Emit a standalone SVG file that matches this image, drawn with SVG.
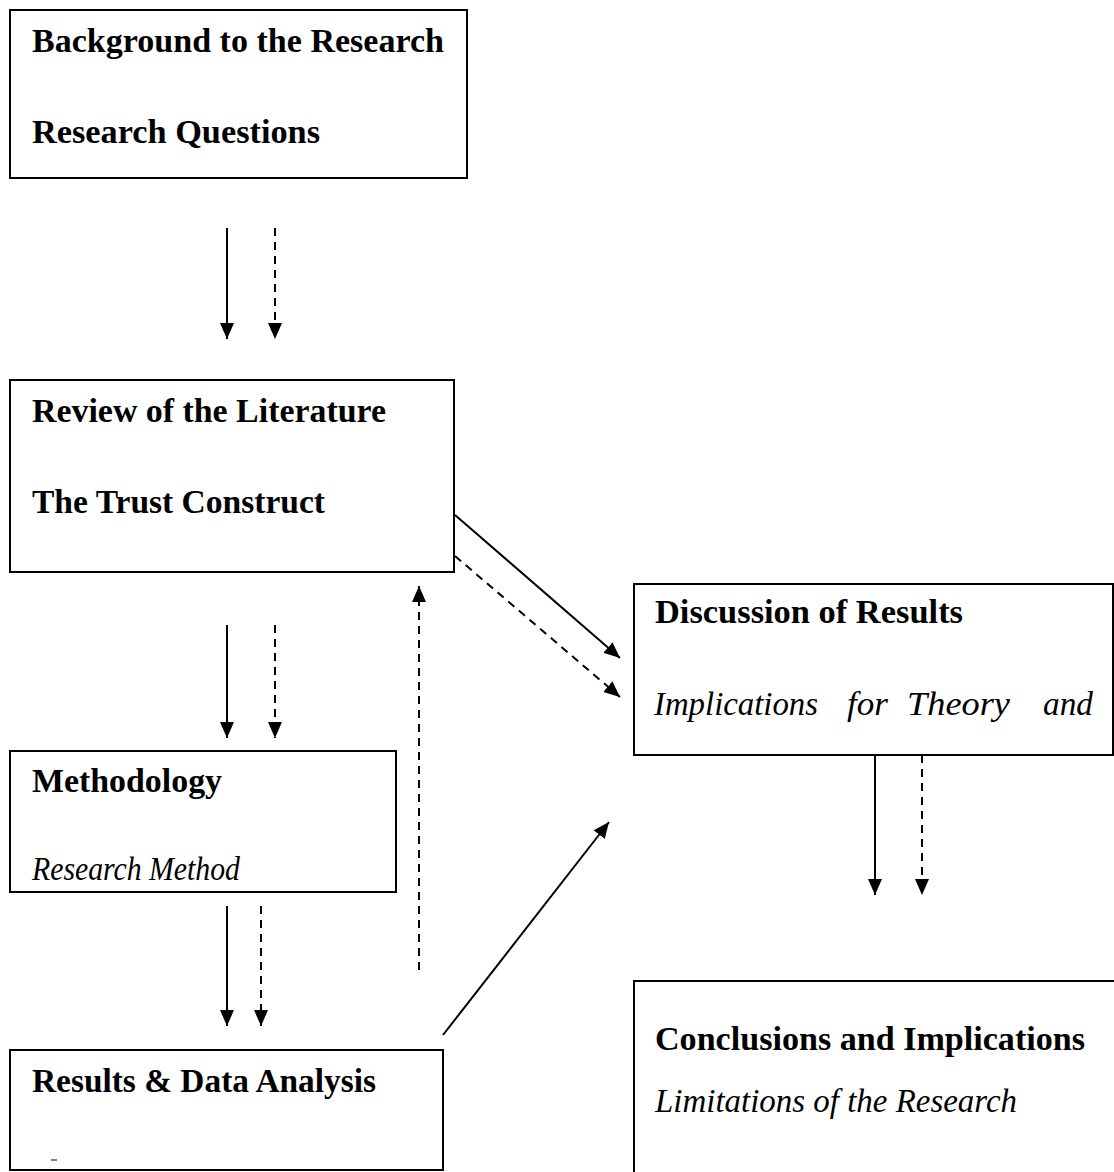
<svg xmlns="http://www.w3.org/2000/svg" width="1114" height="1172" viewBox="0 0 1114 1172">
<style>
.box{fill:#fff;stroke:#000;stroke-width:2}
.t{font-family:"Liberation Serif","DejaVu Serif",serif;font-size:33px;fill:#000}
.b{font-weight:bold}
.i{font-style:italic}
.c{stroke:#000;stroke-width:2;fill:none}
.d{stroke-dasharray:8 6}
</style>
<defs>
<marker id="ah" markerUnits="userSpaceOnUse" markerWidth="18" markerHeight="18" viewBox="0 0 18 18" refX="16" refY="9" orient="auto">
<path d="M0,2 L16,9 L0,16 Z" fill="#000"/>
</marker>
</defs>
<rect width="1114" height="1172" fill="#fff"/>
<g id="background">
<rect class="box" x="10" y="10" width="457" height="168"/>
<text class="t b" x="32" y="52" textLength="412" lengthAdjust="spacingAndGlyphs">Background to the Research</text>
<text class="t b" x="32" y="143" textLength="288" lengthAdjust="spacingAndGlyphs">Research Questions</text>
</g>
<g id="review">
<rect class="box" x="10" y="380" width="444" height="192"/>
<text class="t b" x="32" y="422" textLength="354" lengthAdjust="spacingAndGlyphs">Review of the Literature</text>
<text class="t b" x="32" y="513" textLength="293" lengthAdjust="spacingAndGlyphs">The Trust Construct</text>
</g>
<g id="methodology">
<rect class="box" x="10" y="751" width="386" height="141"/>
<text class="t b" x="32" y="792" textLength="190" lengthAdjust="spacingAndGlyphs">Methodology</text>
<text class="t i" x="32" y="880" textLength="208" lengthAdjust="spacingAndGlyphs">Research Method</text>
</g>
<g id="results">
<rect class="box" x="10" y="1050" width="433" height="120"/>
<text class="t b" x="32" y="1092" textLength="344" lengthAdjust="spacingAndGlyphs">Results &amp; Data Analysis</text>
<line x1="51" y1="1160" x2="57" y2="1160" stroke="#000" stroke-width="1"/>
</g>
<g id="discussion">
<rect class="box" x="634" y="584" width="479" height="171"/>
<text class="t b" x="655" y="623" textLength="308" lengthAdjust="spacingAndGlyphs">Discussion of Results</text>
<text class="t i" x="654" y="715" textLength="164" lengthAdjust="spacingAndGlyphs">Implications</text>
<text class="t i" x="847" y="715" textLength="41" lengthAdjust="spacingAndGlyphs">for</text>
<text class="t i" x="907" y="715" textLength="103" lengthAdjust="spacingAndGlyphs">Theory</text>
<text class="t i" x="1043" y="715" textLength="50" lengthAdjust="spacingAndGlyphs">and</text>
</g>
<g id="conclusions">
<rect class="box" x="634" y="981" width="490" height="200"/>
<text class="t b" x="655" y="1050" textLength="430" lengthAdjust="spacingAndGlyphs">Conclusions and Implications</text>
<text class="t i" x="655" y="1112" textLength="362" lengthAdjust="spacingAndGlyphs">Limitations of the Research</text>
</g>
<g id="connectors">
<line class="c" x1="227" y1="228" x2="227" y2="339" marker-end="url(#ah)"/>
<line class="c d" x1="275" y1="228" x2="275" y2="339" marker-end="url(#ah)"/>
<line class="c" x1="227" y1="625" x2="227" y2="738" marker-end="url(#ah)"/>
<line class="c d" x1="275" y1="625" x2="275" y2="738" marker-end="url(#ah)"/>
<line class="c" x1="227" y1="906" x2="227" y2="1026" marker-end="url(#ah)"/>
<line class="c d" x1="261" y1="906" x2="261" y2="1026" marker-end="url(#ah)"/>
<line class="c d" x1="419" y1="970" x2="419" y2="586" marker-end="url(#ah)"/>
<line class="c" x1="455" y1="515" x2="620" y2="658" marker-end="url(#ah)"/>
<line class="c d" x1="455" y1="556" x2="620" y2="697" marker-end="url(#ah)"/>
<line class="c" x1="443" y1="1035" x2="609" y2="822" marker-end="url(#ah)"/>
<line class="c" x1="875" y1="755" x2="875" y2="895" marker-end="url(#ah)"/>
<line class="c d" x1="922" y1="755" x2="922" y2="895" marker-end="url(#ah)"/>
</g>
</svg>
